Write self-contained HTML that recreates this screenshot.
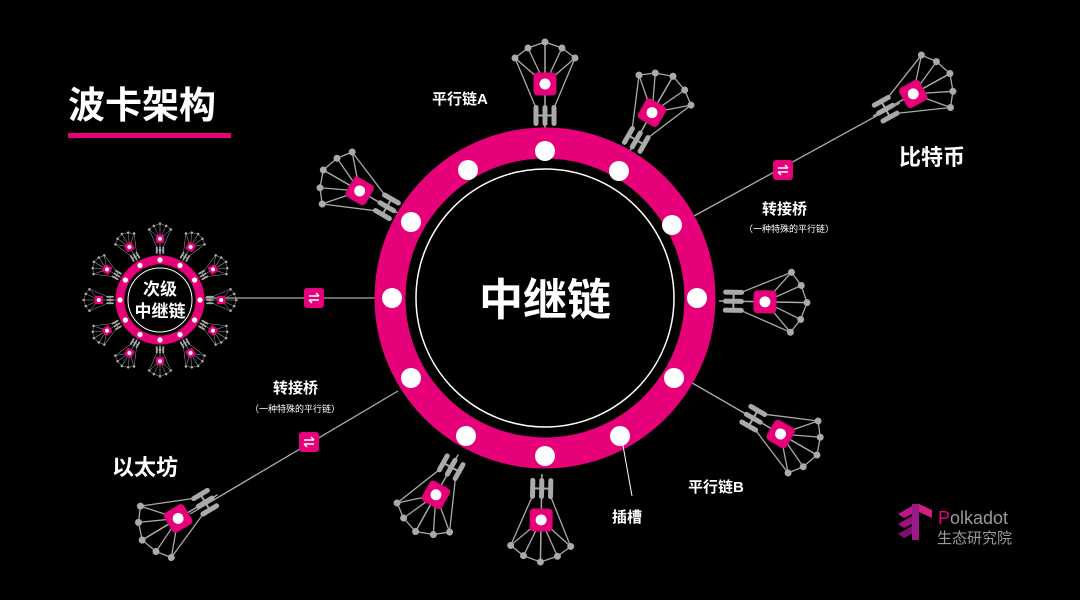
<!DOCTYPE html>
<html><head><meta charset="utf-8"><style>
html,body{margin:0;padding:0;background:#000;}
svg{display:block}
text{font-family:"Liberation Sans","Noto Sans CJK SC",sans-serif;fill:#fff;font-weight:bold}
text.n{font-weight:normal}
</style></head><body>
<svg width="1080" height="600" viewBox="0 0 1080 600" xmlns="http://www.w3.org/2000/svg">
<defs>
<g id="pc">
  <line x1="0" y1="0" x2="0" y2="-88" stroke="#aaa" stroke-width="1.5"/>
  <line x1="-9" y1="-22" x2="-30" y2="-72" stroke="#aaa" stroke-width="1.3"/>
  <line x1="9" y1="-22" x2="30" y2="-72" stroke="#aaa" stroke-width="1.3"/>
  <g stroke="#aaa" stroke-width="1.3" fill="none">
    <polyline points="-30,-72 -17,-82 0,-88 17,-82 30,-72"/>
    <line x1="0" y1="-46" x2="-30" y2="-72"/><line x1="0" y1="-46" x2="-17" y2="-82"/>
    <line x1="0" y1="-46" x2="17" y2="-82"/><line x1="0" y1="-46" x2="30" y2="-72"/>
  </g>
  <g fill="#aaa">
    <rect x="-11.5" y="-25" width="5" height="21" rx="2.5"/>
    <rect x="-2.5" y="-25" width="5" height="21" rx="2.5"/>
    <rect x="6.5" y="-25" width="5" height="21" rx="2.5"/>
    <rect x="-9" y="-15.5" width="18" height="2"/>
    <circle cx="-30" cy="-72" r="3.5"/><circle cx="-17" cy="-82" r="3.5"/>
    <circle cx="0" cy="-88" r="3.5"/><circle cx="17" cy="-82" r="3.5"/><circle cx="30" cy="-72" r="3.5"/>
  </g>
  <rect x="-11.5" y="-57.5" width="23" height="23" rx="4" fill="#e6007a"/>
  <circle cx="0" cy="-46" r="5.5" fill="#fff"/>
</g>
<g id="br">
  <rect x="-10" y="-10" width="20" height="20" rx="3" fill="#e6007a"/>
  <path d="M-5,-2 H5 M2,-5 L5,-2 M5,2 H-5 M-2,5 L-5,2" stroke="#fff" stroke-width="1.5" fill="none"/>
</g>
</defs>

<text x="68" y="118" font-size="37">波卡架构</text>
<rect x="68" y="133" width="163" height="5" fill="#e6007a"/>

<line x1="694" y1="216" x2="900" y2="103" stroke="#aaa" stroke-width="1.3"/>
<line x1="398" y1="391" x2="190" y2="514" stroke="#aaa" stroke-width="1.3"/>
<line x1="205" y1="298" x2="375" y2="298" stroke="#aaa" stroke-width="1.3"/>

<g transform="translate(545,298)">
  <g transform="rotate(0) translate(0,-168)"><use href="#pc"/></g>
  <g transform="rotate(30) translate(0,-168)"><use href="#pc"/></g>
  <g transform="rotate(91) translate(0,-174)"><use href="#pc"/></g>
  <g transform="rotate(120) translate(0,-168) translate(0,-58)"><line x1="0" y1="58" x2="0" y2="0" stroke="#aaa" stroke-width="1.3"/><use href="#pc"/></g>
  <g transform="rotate(181) translate(0,-176)"><use href="#pc"/></g>
  <g transform="rotate(209) translate(0,-179)"><use href="#pc"/></g>
  <g transform="rotate(-60) translate(0,-168)"><use href="#pc"/></g>
  <g transform="rotate(61) translate(0,-375)"><use href="#pc"/></g>
  <g transform="rotate(239) translate(0,-382)"><use href="#pc"/></g>
</g>

<circle cx="545" cy="298" r="155" fill="none" stroke="#e6007a" stroke-width="31"/>
<circle cx="545" cy="298" r="139" fill="#000"/>
<circle cx="545" cy="298" r="129" fill="none" stroke="#fff" stroke-width="1.5"/>
<g fill="#fff">
  <circle cx="545" cy="151" r="10"/><circle cx="619" cy="171" r="10"/><circle cx="672" cy="225" r="10"/>
  <circle cx="697" cy="298" r="10"/><circle cx="674" cy="378" r="10"/><circle cx="620" cy="436" r="10"/>
  <circle cx="545" cy="456" r="10"/><circle cx="466" cy="436" r="10"/><circle cx="411" cy="378" r="10"/>
  <circle cx="392" cy="298" r="10"/><circle cx="411" cy="222" r="10"/><circle cx="468" cy="170" r="10"/>
</g>
<text x="545" y="315" font-size="44" text-anchor="middle">中继链</text>

<line x1="622" y1="440" x2="632" y2="496" stroke="#fff" stroke-width="1"/>
<text x="612" y="522" font-size="15">插槽</text>

<use href="#br" x="783" y="170"/>
<use href="#br" x="309" y="442"/>
<use href="#br" x="314" y="298"/>

<text x="432" y="104" font-size="15">平行链A</text>
<text x="899" y="165" font-size="22">比特币</text>
<text x="762" y="214" font-size="15">转接桥</text>
<text x="744" y="232" font-size="9" class="n">（一种特殊的平行链）</text>
<text x="273" y="393" font-size="15">转接桥</text>
<text x="250" y="412" font-size="9" class="n">（一种特殊的平行链）</text>
<text x="112" y="475" font-size="22">以太坊</text>
<text x="688" y="492" font-size="15">平行链B</text>

<g transform="translate(160,300)">
  <g transform="scale(0.36)">
    <g transform="rotate(0) translate(0,-124)"><use href="#pc"/></g>
    <g transform="rotate(30) translate(0,-124)"><use href="#pc"/></g>
    <g transform="rotate(60) translate(0,-124)"><use href="#pc"/></g>
    <g transform="rotate(90) translate(0,-124)"><use href="#pc"/></g>
    <g transform="rotate(120) translate(0,-124)"><use href="#pc"/></g>
    <g transform="rotate(150) translate(0,-124)"><use href="#pc"/></g>
    <g transform="rotate(180) translate(0,-124)"><use href="#pc"/></g>
    <g transform="rotate(210) translate(0,-124)"><use href="#pc"/></g>
    <g transform="rotate(240) translate(0,-124)"><use href="#pc"/></g>
    <g transform="rotate(270) translate(0,-124)"><use href="#pc"/></g>
    <g transform="rotate(300) translate(0,-124)"><use href="#pc"/></g>
    <g transform="rotate(330) translate(0,-124)"><use href="#pc"/></g>
  </g>
  <circle r="40" fill="none" stroke="#e6007a" stroke-width="9"/>
  <circle r="35.5" fill="#000"/>
  <circle r="32" fill="none" stroke="#fff" stroke-width="1"/>
  <g fill="#fff">
    <circle cx="0" cy="-40" r="2.6"/><circle cx="20" cy="-34.6" r="2.6"/><circle cx="34.6" cy="-20" r="2.6"/>
    <circle cx="40" cy="0" r="2.6"/><circle cx="34.6" cy="20" r="2.6"/><circle cx="20" cy="34.6" r="2.6"/>
    <circle cx="0" cy="40" r="2.6"/><circle cx="-20" cy="34.6" r="2.6"/><circle cx="-34.6" cy="20" r="2.6"/>
    <circle cx="-40" cy="0" r="2.6"/><circle cx="-34.6" cy="-20" r="2.6"/><circle cx="-20" cy="-34.6" r="2.6"/>
  </g>
  <text x="0" y="-5" font-size="17" text-anchor="middle">次级</text>
  <text x="0" y="17" font-size="17" text-anchor="middle">中继链</text>
</g>

<g transform="translate(898,512)">
  <path d="M0,2 L14,-6 L14,2 L6,6 Z" fill="#c0158a"/>
  <path d="M0,12 L14,4 L14,12 L6,16 Z" fill="#a0107a"/>
  <path d="M0,22 L14,14 L14,22 L6,26 Z" fill="#7a1070"/>
  <rect x="14" y="-8" width="7" height="36" fill="#9b1a8a"/>
  <path d="M21,-8 L34,-2 L34,6 L21,0 Z" fill="#d0207f"/>
</g>
<text x="938" y="524" font-size="18" class="n" style="fill:#9a9a9a"><tspan style="fill:#e6007a">P</tspan>olkadot</text>
<text x="937" y="543" font-size="15" class="n" style="fill:#9a9a9a">生态研究院</text>
</svg>
</body></html>
